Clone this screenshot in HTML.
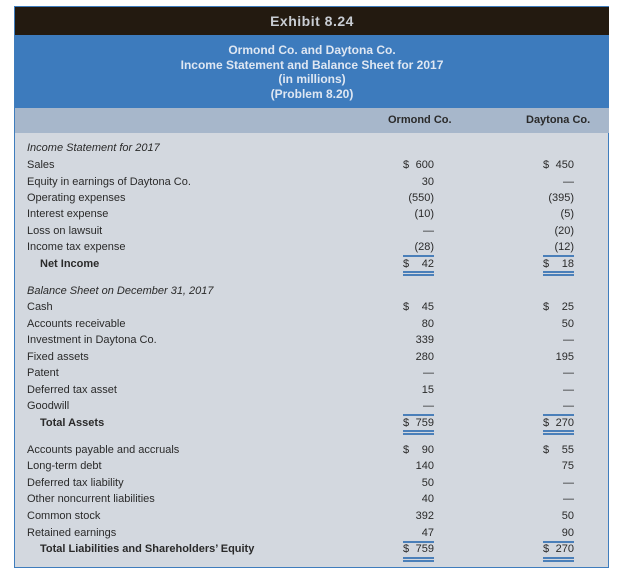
<!DOCTYPE html>
<html><head><meta charset="utf-8"><style>
body{margin:0;width:624px;height:573px;background:#fff;position:relative;font-family:"Liberation Sans",Arial,sans-serif;color:#2a2a2a;overflow:hidden}
.a{position:absolute}
.box{left:14px;top:6px;width:593px;height:560px;border:1.5px solid #3f7dbd;background:#d3d8df}
.dark{left:15px;top:7px;width:594px;height:28px;background:#231a10;color:#c9cdd3;font-weight:bold;font-size:14px;text-align:center;line-height:28px;letter-spacing:0.5px}
.blue{left:15px;top:35px;width:594px;height:73px;background:#3d7bbd;color:#dfe7f2;font-weight:bold;font-size:12px;text-align:center;line-height:14.5px;padding-top:8px;box-sizing:border-box}
.ch{left:15px;top:108px;width:594px;height:25px;background:#a7b7cb;font-weight:bold;font-size:11px}
.l{font-size:11px;left:27px;line-height:14px}
.v{font-size:11px;line-height:14px;width:31px;display:flex;justify-content:space-between}
.v span:last-child{margin-left:auto}
.o{left:403px}.d{left:543px}
.u{height:1.5px;background:#4a7fb9;width:31px}
</style></head><body>
<div class="a box"></div>
<div class="a dark">Exhibit 8.24</div>
<div class="a blue">Ormond Co. and Daytona Co.<br>Income Statement and Balance Sheet for 2017<br>(in millions)<br>(Problem 8.20)</div>
<div class="a ch"><span class="a" style="left:373px;top:6px">Ormond Co.</span><span class="a" style="left:511px;top:6px">Daytona Co.</span></div>

<div class="a l" style="top:141px;font-style:italic">Income Statement for 2017</div>
<div class="a l" style="top:158px">Sales</div>
<div class="a l" style="top:175px">Equity in earnings of Daytona Co.</div>
<div class="a l" style="top:191px">Operating expenses</div>
<div class="a l" style="top:207px">Interest expense</div>
<div class="a l" style="top:224px">Loss on lawsuit</div>
<div class="a l" style="top:240px">Income tax expense</div>
<div class="a l" style="top:257px;font-weight:bold;left:40px">Net Income</div>

<div class="a l" style="top:284px;font-style:italic">Balance Sheet on December 31, 2017</div>
<div class="a l" style="top:300px">Cash</div>
<div class="a l" style="top:317px">Accounts receivable</div>
<div class="a l" style="top:333px">Investment in Daytona Co.</div>
<div class="a l" style="top:350px">Fixed assets</div>
<div class="a l" style="top:366px">Patent</div>
<div class="a l" style="top:383px">Deferred tax asset</div>
<div class="a l" style="top:399px">Goodwill</div>
<div class="a l" style="top:416px;font-weight:bold;left:40px">Total Assets</div>

<div class="a l" style="top:443px">Accounts payable and accruals</div>
<div class="a l" style="top:459px">Long-term debt</div>
<div class="a l" style="top:476px">Deferred tax liability</div>
<div class="a l" style="top:492px">Other noncurrent liabilities</div>
<div class="a l" style="top:509px">Common stock</div>
<div class="a l" style="top:526px">Retained earnings</div>
<div class="a l" style="top:542px;font-weight:bold;left:40px">Total Liabilities and Shareholders’ Equity</div>

<div class="a v o" style="top:158px"><span>$</span><span>600</span></div>
<div class="a v o" style="top:175px"><span>30</span></div>
<div class="a v o" style="top:191px"><span>(550)</span></div>
<div class="a v o" style="top:207px"><span>(10)</span></div>
<div class="a v o" style="top:224px"><span>—</span></div>
<div class="a v o" style="top:240px"><span>(28)</span></div>
<div class="a u o" style="top:255px"></div>
<div class="a v o" style="top:257px"><span>$</span><span>42</span></div>
<div class="a u o" style="top:271px"></div><div class="a u o" style="top:274px"></div>

<div class="a v o" style="top:300px"><span>$</span><span>45</span></div>
<div class="a v o" style="top:317px"><span>80</span></div>
<div class="a v o" style="top:333px"><span>339</span></div>
<div class="a v o" style="top:350px"><span>280</span></div>
<div class="a v o" style="top:366px"><span>—</span></div>
<div class="a v o" style="top:383px"><span>15</span></div>
<div class="a v o" style="top:399px"><span>—</span></div>
<div class="a u o" style="top:414px"></div>
<div class="a v o" style="top:416px"><span>$</span><span>759</span></div>
<div class="a u o" style="top:430px"></div><div class="a u o" style="top:433px"></div>

<div class="a v o" style="top:443px"><span>$</span><span>90</span></div>
<div class="a v o" style="top:459px"><span>140</span></div>
<div class="a v o" style="top:476px"><span>50</span></div>
<div class="a v o" style="top:492px"><span>40</span></div>
<div class="a v o" style="top:509px"><span>392</span></div>
<div class="a v o" style="top:526px"><span>47</span></div>
<div class="a u o" style="top:541px"></div>
<div class="a v o" style="top:542px"><span>$</span><span>759</span></div>
<div class="a u o" style="top:557px"></div><div class="a u o" style="top:560px"></div>

<div class="a v d" style="top:158px"><span>$</span><span>450</span></div>
<div class="a v d" style="top:175px"><span>—</span></div>
<div class="a v d" style="top:191px"><span>(395)</span></div>
<div class="a v d" style="top:207px"><span>(5)</span></div>
<div class="a v d" style="top:224px"><span>(20)</span></div>
<div class="a v d" style="top:240px"><span>(12)</span></div>
<div class="a u d" style="top:255px"></div>
<div class="a v d" style="top:257px"><span>$</span><span>18</span></div>
<div class="a u d" style="top:271px"></div><div class="a u d" style="top:274px"></div>

<div class="a v d" style="top:300px"><span>$</span><span>25</span></div>
<div class="a v d" style="top:317px"><span>50</span></div>
<div class="a v d" style="top:333px"><span>—</span></div>
<div class="a v d" style="top:350px"><span>195</span></div>
<div class="a v d" style="top:366px"><span>—</span></div>
<div class="a v d" style="top:383px"><span>—</span></div>
<div class="a v d" style="top:399px"><span>—</span></div>
<div class="a u d" style="top:414px"></div>
<div class="a v d" style="top:416px"><span>$</span><span>270</span></div>
<div class="a u d" style="top:430px"></div><div class="a u d" style="top:433px"></div>

<div class="a v d" style="top:443px"><span>$</span><span>55</span></div>
<div class="a v d" style="top:459px"><span>75</span></div>
<div class="a v d" style="top:476px"><span>—</span></div>
<div class="a v d" style="top:492px"><span>—</span></div>
<div class="a v d" style="top:509px"><span>50</span></div>
<div class="a v d" style="top:526px"><span>90</span></div>
<div class="a u d" style="top:541px"></div>
<div class="a v d" style="top:542px"><span>$</span><span>270</span></div>
<div class="a u d" style="top:557px"></div><div class="a u d" style="top:560px"></div>
</body></html>
